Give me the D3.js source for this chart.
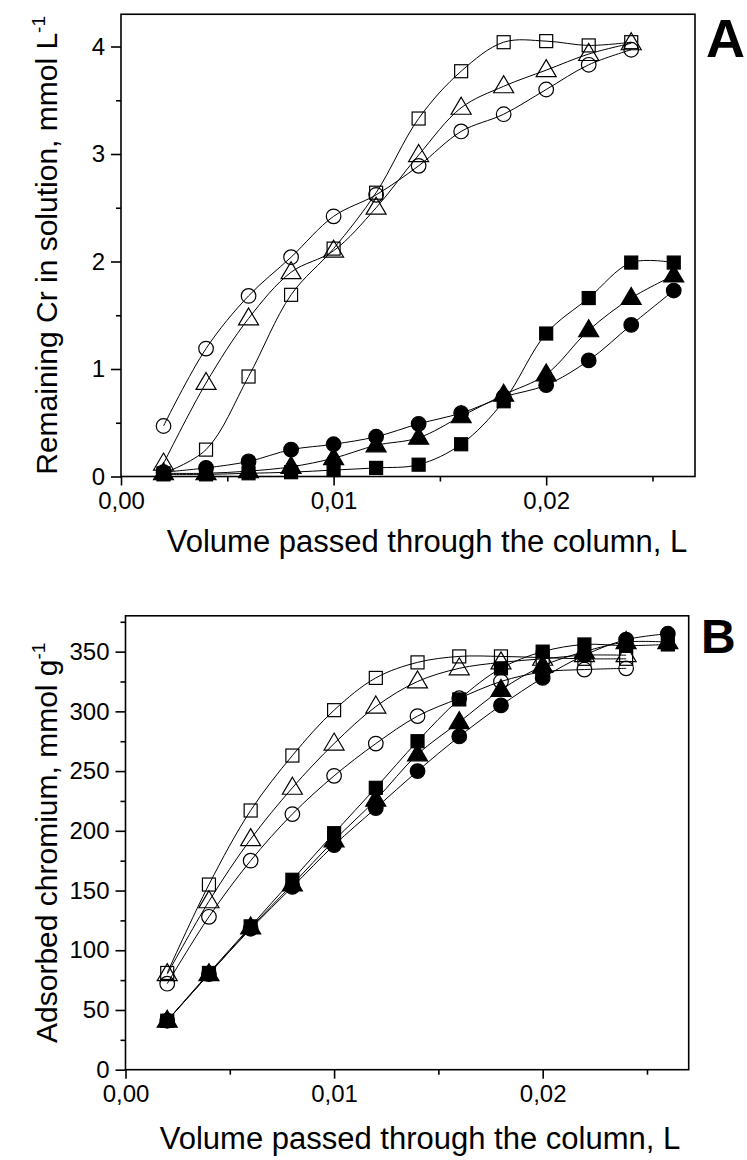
<!DOCTYPE html>
<html><head><meta charset="utf-8">
<script src="https://cdn.jsdelivr.net/npm/d3@7"></script>
<style>body{margin:0;background:#fff;} text{font-family:"Liberation Sans",Arial,sans-serif;fill:#000;}</style>
</head><body>
<svg id="c" width="747" height="1160"></svg>
<script>
// ---- data ----
const volFilled = [0.002,0.004,0.006,0.008,0.010,0.012,0.014,0.016,0.018,0.020,0.022,0.024,0.026];
const volOpen   = [0.002,0.004,0.006,0.008,0.010,0.012,0.014,0.016,0.018,0.020,0.022,0.024];

// Panel A: remaining Cr in solution, mmol/L
const aOpenSquare   = [0.03,0.25,0.93,1.69,2.12,2.64,3.33,3.77,4.04,4.05,4.01,4.04];
const aOpenTriangle = [0.12,0.87,1.47,1.90,2.10,2.50,2.99,3.43,3.63,3.78,3.93,4.03];
const aOpenCircle   = [0.47,1.19,1.68,2.04,2.42,2.62,2.89,3.21,3.37,3.60,3.83,3.97];
const aFilledSquare   = [0.02,0.02,0.03,0.04,0.06,0.08,0.11,0.30,0.70,1.33,1.66,1.99,1.99];
const aFilledTriangle = [0.03,0.03,0.05,0.09,0.17,0.29,0.36,0.56,0.76,0.95,1.36,1.66,1.87];
const aFilledCircle   = [0.04,0.08,0.14,0.25,0.30,0.37,0.49,0.59,0.74,0.85,1.08,1.41,1.73];

// Panel B: adsorbed chromium, mmol/g
const bOpenSquare   = [81,155,217,263,301,328,341,346,346,345,344,344];
const bOpenTriangle = [80,141,193,236,273,304,325,336,341,344,347,347];
const bOpenCircle   = [72,128,175,214,246,273,296,311,325,333,335,336];
const bFilledSquare   = [41,81,120,159,198,236,275,310,336,350,356,355,356];
const bFilledTriangle = [41,80,119,155,192,226,264,291,318,338,350,358,358];
const bFilledCircle   = [41,80,118,153,188,219,250,279,305,328,347,360,365];

const xTickLabels = ["0,00","0,01","0,02"];
const xMajor = [0,0.01,0.02];
const xMinor = [0.005,0.015,0.025];

const svg = d3.select("#c");

function marker(g, shape, filled, cx, cy){
  const fill = filled ? "#000" : "none";
  if(shape==="square"){
    g.append("rect").attr("x",cx-6.5).attr("y",cy-6.5).attr("width",13).attr("height",13)
     .attr("fill",fill).attr("stroke","#000").attr("stroke-width",1.2);
  } else if(shape==="circle"){
    g.append("circle").attr("cx",cx).attr("cy",cy).attr("r",7.3)
     .attr("fill",fill).attr("stroke","#000").attr("stroke-width",1.2);
  } else {
    const w=10, h=17;
    g.append("path").attr("d",`M${cx},${cy-h*0.62}L${cx+w},${cy+h*0.38}L${cx-w},${cy+h*0.38}Z`)
     .attr("fill",fill).attr("stroke","#000").attr("stroke-width",1.2);
  }
}

function panel(cfg){
  const x = d3.scaleLinear().domain([0,0.027]).range(cfg.xr);
  const y = d3.scaleLinear().domain(cfg.yd).range(cfg.yr);
  const g = svg.append("g");
  const line = d3.line().x(d=>x(d[0])).y(d=>y(d[1])).curve(d3.curveCatmullRom.alpha(0.5));
  cfg.series.forEach(s=>{
    const pts = s.vals.map((v,i)=>[s.vol[i],v]);
    g.append("path").attr("d",line(pts)).attr("fill","none").attr("stroke","#000").attr("stroke-width",1);
  });
  cfg.series.forEach(s=>{
    s.vals.forEach((v,i)=>marker(g,s.shape,s.filled,x(s.vol[i]),y(v)));
  });
  // frame
  const [x0,x1]=cfg.xr, [y0,y1]=cfg.yr;
  g.append("rect").attr("x",x0).attr("y",y1).attr("width",x1-x0).attr("height",y0-y1)
   .attr("fill","none").attr("stroke","#000").attr("stroke-width",1.6);
  // x axis
  const xa = g.append("g").attr("transform",`translate(0,${y0})`);
  xa.call(d3.axisBottom(x).tickValues(xMajor).tickSize(9).tickPadding(6).tickFormat((d,i)=>xTickLabels[i]));
  xa.append("g").call(d3.axisBottom(x).tickValues(xMinor).tickSize(5).tickFormat(""));
  xa.selectAll(".domain").remove();
  xa.selectAll("line").attr("stroke","#000").attr("stroke-width",1.6);
  xa.selectAll("text").attr("font-size",24).attr("font-family","Liberation Sans, Arial, sans-serif").attr("fill","#000");
  // y axis
  const ya = g.append("g").attr("transform",`translate(${x0},0)`);
  ya.call(d3.axisLeft(y).tickValues(cfg.yMajor).tickSize(10).tickPadding(6).tickFormat(d3.format("d")));
  ya.append("g").call(d3.axisLeft(y).tickValues(cfg.yMinor).tickSize(5).tickFormat(""));
  ya.selectAll(".domain").remove();
  ya.selectAll("line").attr("stroke","#000").attr("stroke-width",1.6);
  ya.selectAll("text").attr("font-size",24).attr("font-family","Liberation Sans, Arial, sans-serif").attr("fill","#000");
  // titles
  svg.append("text").attr("x",cfg.xTitleX).attr("y",cfg.xTitleY).attr("text-anchor","middle")
    .attr("font-size",31).text("Volume passed through the column, L");
  const yt = svg.append("text").attr("transform",`translate(${cfg.yTitleX},${(y0+y1)/2}) rotate(-90)`)
    .attr("text-anchor","middle").attr("font-size",30);
  yt.append("tspan").text(cfg.yTitle);
  yt.append("tspan").attr("font-size",19).attr("dy",-12).text("-1");
  svg.append("text").attr("x",cfg.labelX).attr("y",cfg.labelY).attr("font-size",cfg.labelSize)
    .attr("font-weight","bold").text(cfg.label);
}

panel({
  xr:[121,695], yd:[0,4.3], yr:[476.5,14.25],
  yMajor:[0,1,2,3,4], yMinor:[0.5,1.5,2.5,3.5],
  series:[
    {vol:volOpen, vals:aOpenSquare, shape:"square", filled:false},
    {vol:volOpen, vals:aOpenTriangle, shape:"triangle", filled:false},
    {vol:volOpen, vals:aOpenCircle, shape:"circle", filled:false},
    {vol:volFilled, vals:aFilledSquare, shape:"square", filled:true},
    {vol:volFilled, vals:aFilledTriangle, shape:"triangle", filled:true},
    {vol:volFilled, vals:aFilledCircle, shape:"circle", filled:true}
  ],
  xTitleX:427, xTitleY:552, yTitleX:57, yTitle:"Remaining Cr in solution, mmol L",
  label:"A", labelX:706, labelY:57, labelSize:54
});

panel({
  xr:[125.5,688.7], yd:[0,380], yr:[1069.7,615.8],
  yMajor:[0,50,100,150,200,250,300,350], yMinor:[25,75,125,175,225,275,325,375],
  series:[
    {vol:volOpen, vals:bOpenSquare, shape:"square", filled:false},
    {vol:volOpen, vals:bOpenTriangle, shape:"triangle", filled:false},
    {vol:volOpen, vals:bOpenCircle, shape:"circle", filled:false},
    {vol:volFilled, vals:bFilledSquare, shape:"square", filled:true},
    {vol:volFilled, vals:bFilledTriangle, shape:"triangle", filled:true},
    {vol:volFilled, vals:bFilledCircle, shape:"circle", filled:true}
  ],
  xTitleX:420, xTitleY:1149, yTitleX:57, yTitle:"Adsorbed chromium, mmol g",
  label:"B", labelX:701, labelY:653, labelSize:48
});
</script>
</body></html>
